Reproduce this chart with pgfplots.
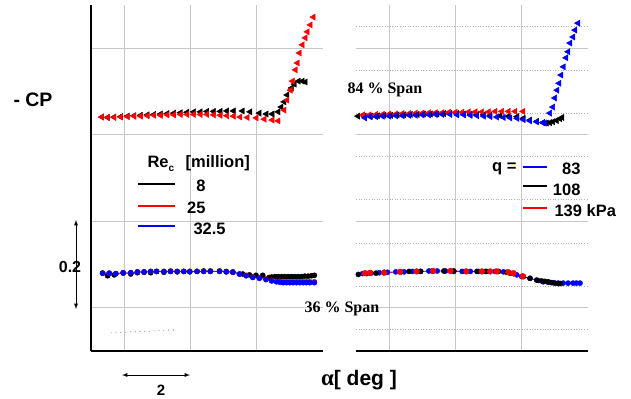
\documentclass[border=0pt]{standalone}
\usepackage{fontspec}
\setmainfont{Liberation Sans}
\newfontfamily\serifb{Liberation Serif}
\usepackage{pgfplots}
\pgfplotsset{compat=1.18}
\begin{document}
\begin{tikzpicture}[x=1bp,y=1bp]
\path[use as bounding box] (0,0) rectangle (631,398);
\pgfplotsset{
  panel/.style={
    scale only axis, width=232bp, height=346bp,
    anchor=south west,
    xmin=1, xmax=8, ymin=0, ymax=0.8,
    xtick={2,4,6}, ytick={0.1,0.3,0.5,0.7},
    xticklabels={}, yticklabels={},
    major tick length=0pt, minor tick length=0pt,
    xmajorgrids, ymajorgrids,
    major grid style={color=black!22, line width=0.9pt},
    axis x line=bottom, axis y line=left,
    axis line style={-, line width=1.6pt, black},
    clip=false,
  },
  tri/.style={only marks, mark=triangle*, mark size=3.6pt, mark options={rotate=90}},
  circ/.style={line width=0.4pt, mark=*, mark size=2.6pt},
}
% ---------------- left panel
\begin{axis}[panel, at={(91bp,47bp)}]
\addplot[tri, black, mark options={rotate=90, fill=black}] coordinates {
(1.33,0.541)(1.5,0.540)(1.7,0.541)(1.9,0.542)(2.1,0.543)(2.3,0.544)(2.5,0.545)(2.7,0.546)(2.9,0.547)(3.1,0.548)(3.3,0.549)(3.5,0.550)(3.7,0.551)(3.9,0.552)(4.1,0.553)(4.3,0.553)(4.5,0.554)(4.7,0.554)(4.9,0.554)(5.1,0.555)(5.3,0.555)(5.57,0.555)(5.8,0.553)(6.08,0.550)(6.29,0.548)(6.47,0.548)(6.65,0.553)(6.74,0.564)(6.83,0.576)(6.92,0.592)(7.05,0.608)(7.14,0.617)(7.26,0.624)(7.38,0.624)(7.47,0.622)};
\addplot[tri, red, mark options={rotate=90, fill=red}] coordinates {
(1.33,0.541)(1.5,0.540)(1.7,0.540)(1.9,0.541)(2.1,0.542)(2.3,0.543)(2.5,0.543)(2.7,0.544)(2.9,0.545)(3.1,0.545)(3.3,0.546)(3.5,0.546)(3.7,0.547)(3.9,0.547)(4.1,0.547)(4.3,0.547)(4.5,0.547)(4.7,0.546)(4.9,0.545)(5.1,0.544)(5.3,0.543)(5.5,0.541)(5.72,0.540)(5.99,0.539)(6.23,0.536)(6.47,0.534)(6.65,0.532)(6.83,0.557)(6.92,0.580)(7.02,0.603)(7.08,0.624)(7.17,0.650)(7.23,0.666)(7.29,0.689)(7.38,0.708)(7.47,0.724)(7.53,0.738)(7.62,0.754)(7.71,0.772)};
\addplot[circ, black, mark options={fill=black}] coordinates {
(1.35,0.180)(1.5,0.174)(1.7,0.176)(1.97,0.180)(2.2,0.178)(2.4,0.181)(2.6,0.182)(2.8,0.181)(2.98,0.184)(3.2,0.182)(3.4,0.184)(3.6,0.183)(3.8,0.184)(3.98,0.184)(4.2,0.184)(4.4,0.185)(4.6,0.185)(4.88,0.185)(5.08,0.184)(5.28,0.183)(5.58,0.178)(5.78,0.176)(5.98,0.175)(6.18,0.175)(6.38,0.170)(6.45,0.171)(6.55,0.172)(6.65,0.172)(6.75,0.172)(6.85,0.172)(6.95,0.172)(7.05,0.172)(7.15,0.172)(7.25,0.172)(7.35,0.172)(7.45,0.173)(7.55,0.173)(7.65,0.174)(7.74,0.175)};
\addplot[circ, red, mark options={fill=red}] coordinates {
(1.35,0.180)(1.55,0.180)(1.75,0.179)(1.97,0.181)(2.2,0.181)(2.4,0.183)(2.6,0.183)(2.8,0.184)(2.98,0.184)(3.2,0.184)(3.4,0.185)(3.6,0.184)(3.8,0.184)(3.98,0.184)(4.2,0.184)(4.4,0.184)(4.6,0.184)(4.88,0.184)(5.08,0.183)(5.28,0.182)(5.48,0.178)(5.68,0.175)(5.88,0.171)(6.08,0.169)(6.28,0.166)(6.45,0.163)(6.6,0.161)(6.7,0.161)(6.8,0.160)(6.9,0.160)(7.0,0.160)(7.1,0.160)(7.2,0.160)(7.3,0.160)(7.4,0.160)(7.5,0.160)(7.6,0.160)(7.74,0.160)};
\addplot[circ, blue, mark options={fill=blue}] coordinates {
(1.35,0.180)(1.55,0.180)(1.75,0.179)(1.97,0.181)(2.2,0.181)(2.4,0.183)(2.6,0.183)(2.8,0.184)(2.98,0.184)(3.2,0.184)(3.4,0.184)(3.6,0.184)(3.8,0.184)(3.98,0.183)(4.2,0.184)(4.4,0.184)(4.6,0.184)(4.88,0.184)(5.08,0.183)(5.28,0.182)(5.48,0.178)(5.68,0.174)(5.88,0.170)(6.08,0.168)(6.28,0.165)(6.45,0.162)(6.6,0.160)(6.7,0.159)(6.8,0.158)(6.9,0.158)(7.0,0.158)(7.1,0.158)(7.2,0.158)(7.3,0.158)(7.4,0.158)(7.5,0.158)(7.6,0.158)(7.74,0.158)};
\addplot[red, line width=0.6pt, dash pattern=on 0.8pt off 4pt] coordinates {(1.60,0.042)(3.59,0.049)};
\end{axis}
% ---------------- right panel
\begin{axis}[panel, at={(356bp,47bp)},
  y axis line style={draw=none},
  minor ytick={0.05,0.15,0.25,0.35,0.45,0.55,0.65,0.75},
  yminorgrids,
  minor grid style={color=black!30, line width=0.6pt, dotted},
]
\addplot[tri, black, mark options={rotate=90, fill=black}] coordinates {
(1.06,0.543)(1.25,0.543)(1.45,0.543)(1.65,0.544)(1.85,0.545)(2.05,0.545)(2.25,0.546)(2.45,0.546)(2.65,0.547)(2.85,0.547)(3.05,0.548)(3.25,0.548)(3.45,0.548)(3.65,0.549)(3.84,0.549)(4.05,0.549)(4.25,0.548)(4.45,0.548)(4.65,0.547)(4.85,0.546)(5.05,0.545)(5.35,0.544)(5.6,0.543)(5.86,0.542)(6.05,0.538)(6.25,0.534)(6.46,0.531)(6.64,0.528)(6.75,0.527)(6.85,0.528)(6.94,0.530)(7.05,0.533)(7.16,0.537)(7.22,0.540)};
\addplot[tri, red, mark options={rotate=90, fill=red}] coordinates {
(1.21,0.546)(1.4,0.546)(1.6,0.547)(1.8,0.547)(2.0,0.548)(2.2,0.548)(2.4,0.549)(2.6,0.549)(2.8,0.550)(3.0,0.550)(3.2,0.551)(3.4,0.551)(3.6,0.551)(3.8,0.552)(4.0,0.552)(4.2,0.552)(4.4,0.553)(4.6,0.553)(4.8,0.553)(5.0,0.553)(5.2,0.554)(5.4,0.554)(5.6,0.554)(5.8,0.554)(6.04,0.554)};
\addplot[tri, blue, mark options={rotate=90, fill=blue}] coordinates {
(1.27,0.539)(1.42,0.542)(1.6,0.542)(1.8,0.543)(2.0,0.543)(2.2,0.544)(2.4,0.544)(2.6,0.545)(2.8,0.545)(3.0,0.546)(3.2,0.546)(3.4,0.547)(3.6,0.547)(3.84,0.547)(4.05,0.546)(4.25,0.546)(4.45,0.545)(4.65,0.544)(4.85,0.543)(5.05,0.542)(5.25,0.541)(5.45,0.540)(5.65,0.539)(5.86,0.538)(6.05,0.535)(6.25,0.532)(6.45,0.530)(6.64,0.528)(6.70,0.527)(6.85,0.550)(6.94,0.564)(7.00,0.585)(7.07,0.603)(7.13,0.619)(7.19,0.638)(7.26,0.657)(7.34,0.678)(7.40,0.692)(7.46,0.712)(7.55,0.726)(7.61,0.742)(7.70,0.758)};
\addplot[circ, blue, mark options={fill=blue}] coordinates {
(1.2,0.179)(1.45,0.180)(1.7,0.181)(1.95,0.182)(2.2,0.183)(2.45,0.183)(2.7,0.184)(2.95,0.184)(3.2,0.185)(3.45,0.185)(3.7,0.185)(3.95,0.184)(4.2,0.184)(4.45,0.184)(4.7,0.184)(4.95,0.184)(5.2,0.184)(5.45,0.183)(5.65,0.180)(5.85,0.176)(6.0,0.172)(6.25,0.168)(6.5,0.163)(6.65,0.160)(6.8,0.159)(6.95,0.158)(7.1,0.157)(7.25,0.157)(7.4,0.157)(7.55,0.157)(7.65,0.157)(7.76,0.157)};
\addplot[circ, black, mark options={fill=black}] coordinates {
(1.07,0.177)(1.32,0.179)(1.6,0.180)(1.85,0.182)(2.35,0.183)(2.6,0.184)(2.95,0.184)(3.3,0.185)(3.65,0.185)(3.95,0.185)(4.3,0.184)(4.65,0.184)(4.9,0.184)(5.3,0.184)(5.55,0.182)(5.75,0.179)(6.05,0.172)(6.25,0.168)(6.45,0.164)(6.6,0.162)(6.7,0.161)(6.8,0.160)(6.9,0.158)(7.0,0.157)(7.1,0.156)(7.16,0.156)};
\addplot[circ, red, mark options={fill=red}, mark size=2.9pt] coordinates {
(1.27,0.180)(1.42,0.181)(1.85,0.181)(2.33,0.183)(2.83,0.184)(3.33,0.185)(3.85,0.185)(4.33,0.184)(4.8,0.184)(5.05,0.184)(5.25,0.184)(5.6,0.182)(5.75,0.180)(6.03,0.173)};
\end{axis}
% ---------------- annotations
\node[font=\fontsize{19.5bp}{22bp}\selectfont\bfseries] at (33,298) {- CP};
\node[font=\fontsize{21bp}{24bp}\selectfont\bfseries, anchor=base] at (359,13) {{\serifb\fontsize{23bp}{24bp}\selectfont α}[ deg ]};
\draw[black, line width=0.9pt, -latex] (156,23) -- (190,23);
\draw[black, line width=0.9pt, -latex] (156,23) -- (122,23);
\node[font=\fontsize{15bp}{17bp}\selectfont\bfseries, anchor=base] at (161,2.5) {2};
\draw[black, line width=0.9pt, -latex] (76,133) -- (76,178);
\draw[black, line width=0.9pt, -latex] (76,133) -- (76,89);
\node[font=\fontsize{16bp}{18bp}\selectfont\bfseries] at (70,131) {0.2};
\node[font=\fontsize{16bp}{18bp}\selectfont\bfseries\serifb, anchor=west] at (344,308) {84 \% Span};
\node[font=\fontsize{16bp}{18bp}\selectfont\bfseries\serifb, anchor=west] at (301,89) {36 \% Span};
% left legend
\node[font=\fontsize{16.5bp}{18bp}\selectfont\bfseries, anchor=west] at (144,234) {Re\raisebox{-0.45ex}{\fontsize{10bp}{11bp}\selectfont c}\hspace{0.7em}[million]};
\draw[black, line width=2.2pt] (138,214) -- (175,214);
\draw[red, line width=2.2pt] (138,192) -- (175,192);
\draw[blue, line width=2.2pt] (138,172) -- (175,172);
\node[font=\fontsize{16.5bp}{18bp}\selectfont\bfseries, anchor=east] at (209,212) {8};
\node[font=\fontsize{16.5bp}{18bp}\selectfont\bfseries, anchor=east] at (209,190) {25};
\node[font=\fontsize{16.5bp}{18bp}\selectfont\bfseries, anchor=west] at (190,169) {32.5};
% right legend
\node[font=\fontsize{16.5bp}{18bp}\selectfont\bfseries, anchor=east] at (520,229) {q =};
\draw[blue, line width=1.8pt] (523,231) -- (547,231);
\draw[black, line width=2.2pt] (523,212) -- (547,212);
\draw[red, line width=2.2pt] (523,190) -- (547,190);
\node[font=\fontsize{16.5bp}{18bp}\selectfont\bfseries, anchor=east] at (584,229) {83};
\node[font=\fontsize{16.5bp}{18bp}\selectfont\bfseries, anchor=east] at (584,208) {108};
\node[font=\fontsize{16.5bp}{18bp}\selectfont\bfseries, anchor=west] at (551,187) {139 kPa};
\end{tikzpicture}
\end{document}
